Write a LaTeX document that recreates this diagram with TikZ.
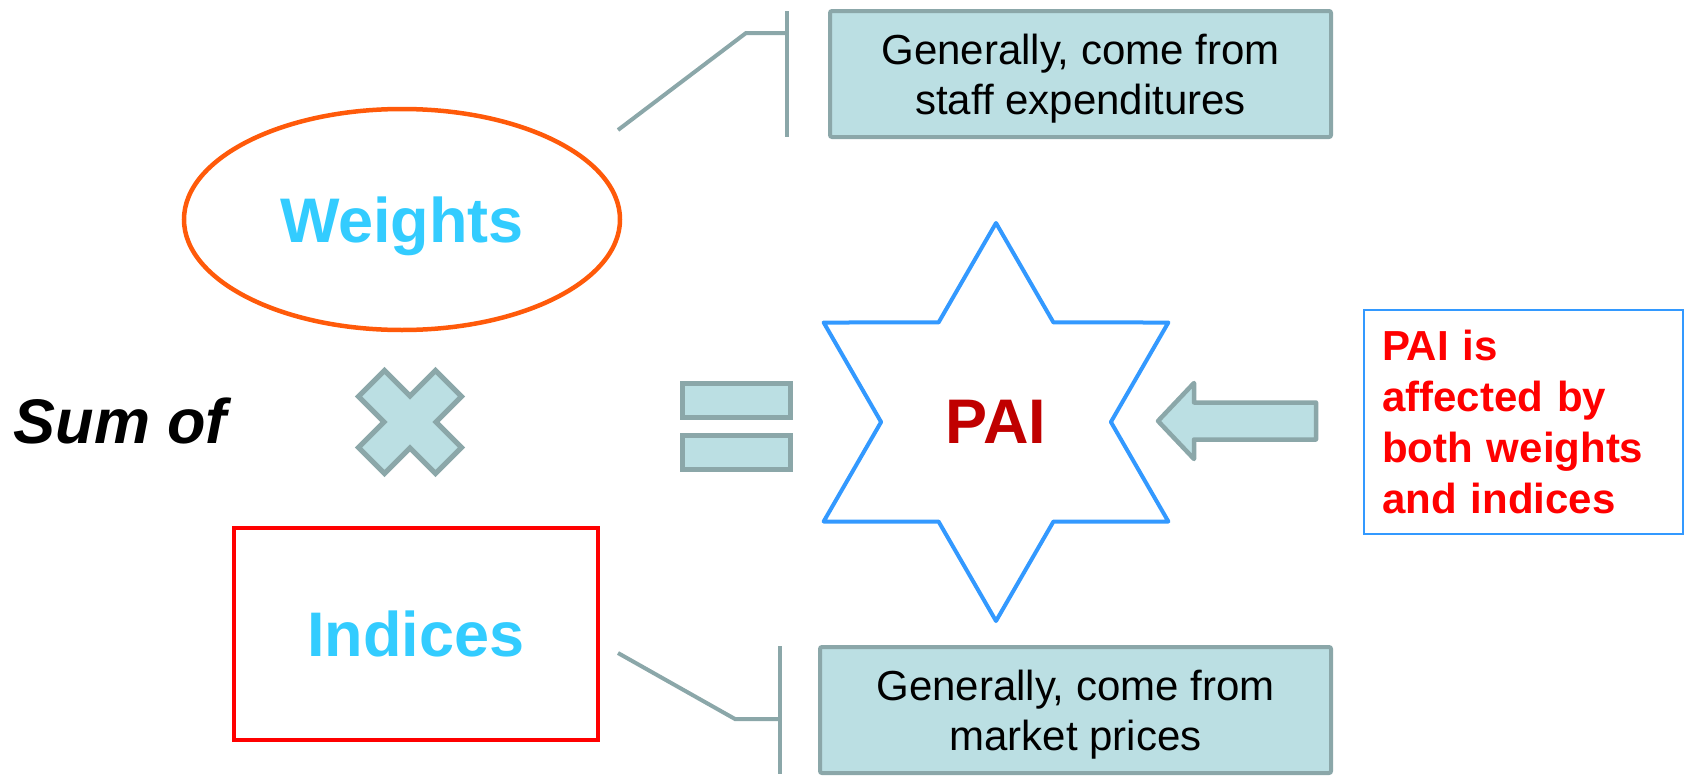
\documentclass[tikz,border=0pt]{standalone}
\usepackage{fontspec}
\setmainfont{Liberation Sans}
\usetikzlibrary{shapes.geometric}

\definecolor{tealfill}{HTML}{BBDFE3}
\definecolor{tealline}{HTML}{8BA7A9}
\definecolor{orangeline}{HTML}{FF5A0A}
\definecolor{skyblue}{HTML}{33CCFF}
\definecolor{starblue}{HTML}{3399FF}
\definecolor{paired}{HTML}{C00000}

\begin{document}
\begin{tikzpicture}[x=1pt,y=-1pt,
  bigtext/.style={font=\fontsize{63}{72}\selectfont\bfseries},
  callout/.style={draw=tealline,fill=tealfill,line width=4pt,rounded corners=2pt,inner sep=0pt,
    align=center,text depth=0pt,font=\fontsize{42}{50}\selectfont},
  link/.style={draw=tealline,line width=4pt},
  sign/.style={draw=tealline,fill=tealfill,line width=5pt}]
\useasboundingbox (0,0) rectangle (1690,779);

% Weights
\node[ellipse,draw=orangeline,line width=4.5pt,minimum width=436pt,minimum height=221pt,
  inner sep=0pt,bigtext,text=skyblue,text depth=0pt] (weights) at (402,219.5) {Weights};

% Indices
\node[rectangle,draw=red,line width=4pt,minimum width=364pt,minimum height=212pt,
  inner sep=0pt,bigtext,text=skyblue] (indices) at (416,634) {Indices};

% Sum of
\node[anchor=base west,font=\fontsize{63}{72}\selectfont\bfseries\itshape] (sumof) at (10,443) {Sum of};

% Times sign
\draw[sign,shift={(410,422)}] (-51.5,-25.5) -- (-25.5,-51.5) -- (0,-26) -- (25.5,-51.5) -- (51.5,-25.5)
  -- (26,0) -- (51.5,25.5) -- (25.5,51.5) -- (0,26) -- (-25.5,51.5) -- (-51.5,25.5) -- (-26,0) -- cycle;

% Equals sign
\draw[sign] (682.5,383.5) rectangle (790.5,417.5);
\draw[sign] (682.5,435.5) rectangle (790.5,469.5);

% PAI
\node[star,star points=6,star point ratio=1.732,minimum size=398pt,inner sep=0pt,
  draw=starblue,line width=4pt,line join=round,bigtext,text=paired] (pai) at (996,422) {PAI};

% Note
\node[draw=starblue,line width=1.5pt,minimum width=319pt,minimum height=224pt,
  text width=283pt,inner xsep=18pt,align=left,text=red,
  font=\fontsize{42}{51}\selectfont\bfseries] (note) at (1523.5,422)
  {PAI is\\affected by\\both weights\\and indices};

% Arrow
\draw[sign,line width=4.5pt,line join=round] (1158,421) -- (1194,383) -- (1194,402.5) -- (1316,402.5)
  -- (1316,439.5) -- (1194,439.5) -- (1194,459) -- cycle;

% Callouts
\node[callout,minimum width=501pt,minimum height=126pt] (staff) at (1080.5,74)
  {Generally, come from\\staff expenditures};
\node[callout,minimum width=511pt,minimum height=126pt] (market) at (1075.5,710)
  {Generally, come from\\market prices};

% Brackets
\coordinate (wtail) at (618,130);
\coordinate (wknee) at (746,33);
\coordinate (wbartop) at (787,11);
\coordinate (wbarbot) at (787,137);
\draw[link] (wtail) -- (wknee) -- (wknee -| wbartop);
\draw[link] (wbartop) -- (wbarbot);

\coordinate (itail) at (618,653);
\coordinate (iknee) at (735,719);
\coordinate (ibartop) at (780,646);
\coordinate (ibarbot) at (780,774);
\draw[link] (itail) -- (iknee) -- (iknee -| ibartop);
\draw[link] (ibartop) -- (ibarbot);
\end{tikzpicture}
\end{document}
